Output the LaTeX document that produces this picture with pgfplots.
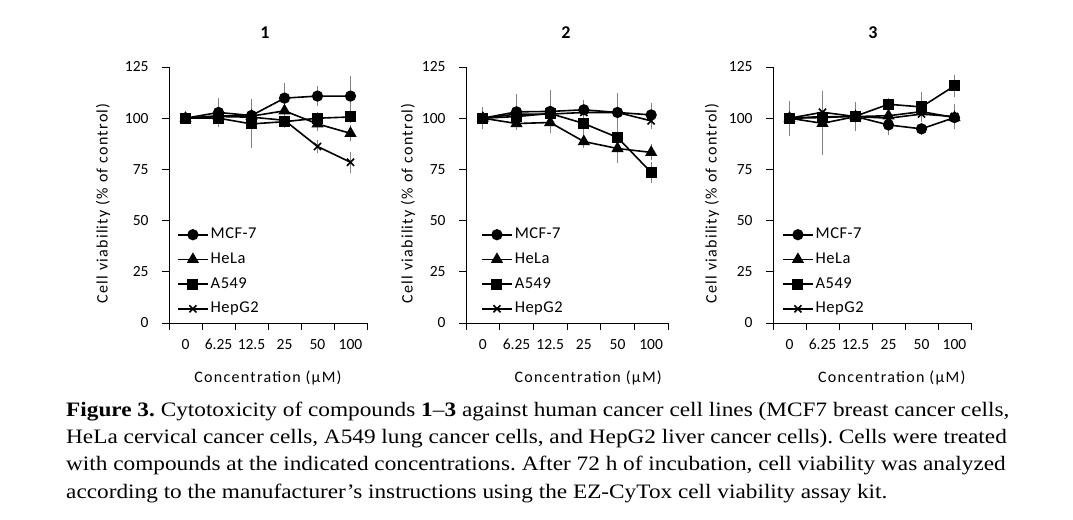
\documentclass[border=0pt]{standalone}
\usepackage{fontspec}
\setmainfont{Liberation Serif}
\newfontfamily\calfont{Carlito}
\newfontfamily\callab[LetterSpace=8]{Carlito}
\newfontfamily\calleg[LetterSpace=3]{Carlito}
\usepackage{pgfplots}
\pgfplotsset{compat=1.18}
\frenchspacing
\newcommand\tickfont{\calfont\fontsize{15.5bp}{18bp}\selectfont}
\newcommand\labfont{\callab\fontsize{16bp}{19bp}\selectfont}
\newcommand\legfont{\calleg\fontsize{16.5bp}{19bp}\selectfont}
\newcommand\titfont{\calfont\bfseries\fontsize{18bp}{20bp}\selectfont}
\newcommand\capfont{\fontsize{20.5bp}{24bp}\selectfont}
\newcommand\capline[1]{\scalebox{1.135}[1]{#1}}
\definecolor{errgray}{RGB}{130,130,130}
\pgfplotsset{
  cyto/.style={
    scale only axis, height=256bp,
    xmin=-0.5, xmax=5.5, ymin=0, ymax=125,
    ytick={0,25,50,75,100,125},
    xtick={0,1,2,3,4,5}, xticklabels={0,6.25,12.5,25,50,100},
    minor xtick={-0.5,0.5,1.5,2.5,3.5,4.5,5.5},
    major x tick style={draw=none},
    axis x line*=bottom, axis y line*=left,
    axis line style={black, line width=0.8bp},
    tick style={black, line width=0.8bp},
    tick align=outside, major tick length=7bp, minor tick length=7bp,
    tick label style={font=\tickfont},
    xticklabel style={yshift=-6bp},
    yticklabel style={xshift=-10bp},
    /pgf/number format/assume math mode=true,
    ylabel={Cell viability (\% of control)},
    xlabel={Concentration (µM)},
    label style={font=\labfont},
    title style={font=\titfont, anchor=center},
    clip=false,
    legend cell align=left,
    legend style={draw=none, fill=none, anchor=north west, font=\legfont,
      inner sep=0pt, row sep=11.7bp, column sep=2bp,
      nodes={inner sep=0pt, text height=10.5bp, text depth=2.5bp}},
    legend image code/.code={\draw[mark repeat=2,mark phase=2,##1] plot coordinates {(0bp,0bp) (15bp,0bp) (30bp,0bp)};},
  },
  ser/.style={black, line width=1.6bp, mark options={solid},
    /pgfplots/error bars/y dir=both, /pgfplots/error bars/y explicit,
    /pgfplots/error bars/error bar style={draw=errgray, line width=0.7bp},
    /pgfplots/error bars/error mark options={draw=errgray, mark size=4bp, line width=0.7bp}},
  mcf/.style={ser, mark=*, mark size=4.8bp},
  hela/.style={ser, mark=triangle*, mark size=5.5bp},
  a549/.style={ser, mark=square*, mark size=4.7bp},
  hep/.style={ser, mark=x, mark size=5bp},
}
\begin{document}
\begin{tikzpicture}
\useasboundingbox (0,0) rectangle (1073bp,520bp);
% ---------------- Panel 1
\begin{axis}[cyto, width=198bp, at={(169bp,197bp)}, anchor=south west,
  title={1}, title style={at={(axis description cs:0.485,1.11)}},
  ylabel style={at={(axis description cs:-0.333,0.467)}, anchor=center},
  xlabel style={at={(axis description cs:0.5,-0.215)}, anchor=center},
  legend style={at={(axis description cs:0.04,0.371)}}]
\addplot[mcf] coordinates {(0,100) +- (0,1) (1,102.8) +- (0,5) (2,101.3) +- (0,6) (3,109.8) +- (0,5.5) (4,110.8) +- (0,3) (5,110.8) +- (0,8)};
\addplot[hela] coordinates {(0,100) +- (0,1) (1,101.2) +- (0,1) (2,101) +- (0,1) (3,103.6) +- (0,2) (4,97.2) +- (0,1.5) (5,92.6) +- (0,2)};
\addplot[a549] coordinates {(0,100) +- (0,1) (1,100) +- (0,1) (2,97.2) +- (0,9.8) (3,98.3) +- (0,1) (4,100) +- (0,1) (5,100.6) +- (0,1)};
\addplot[hep] coordinates {(0,100) +- (0,1) (1,100.8) +- (0,1) (2,100.5) +- (0,1) (3,99) +- (0,1) (4,86.2) +- (0,1) (5,78.5) +- (0,3.2)};
\legend{MCF-7,HeLa,A549,HepG2}
\end{axis}
% ---------------- Panel 2
\begin{axis}[cyto, width=202bp, at={(466bp,197bp)}, anchor=south west,
  title={2}, title style={at={(axis description cs:0.495,1.11)}},
  ylabel style={at={(axis description cs:-0.287,0.467)}, anchor=center},
  xlabel style={at={(axis description cs:0.605,-0.215)}, anchor=center},
  legend style={at={(axis description cs:0.074,0.371)}}]
\addplot[mcf] coordinates {(0,100) +- (0,3.5) (1,103.1) +- (0,7) (2,103.3) +- (0,8.5) (3,104.1) +- (0,3) (4,102.8) +- (0,7.7) (5,101.6) +- (0,4)};
\addplot[hela] coordinates {(0,100) +- (0,1) (1,97.4) +- (0,1) (2,97.9) +- (0,2.5) (3,88.6) +- (0,1) (4,85.2) +- (0,5) (5,83.3) +- (0,2)};
\addplot[a549] coordinates {(0,100) +- (0,1) (1,100.8) +- (0,1) (2,102.3) +- (0,1) (3,97.4) +- (0,5) (4,90.6) +- (0,1) (5,73.5) +- (0,3)};
\addplot[hep] coordinates {(0,100) +- (0,1) (1,102) +- (0,1) (2,102) +- (0,1) (3,102.8) +- (0,1) (4,102.8) +- (0,1) (5,98.7) +- (0,2)};
\legend{MCF-7,HeLa,A549,HepG2}
\end{axis}
% ---------------- Panel 3
\begin{axis}[cyto, width=198bp, at={(773bp,197bp)}, anchor=south west,
  title={3}, title style={at={(axis description cs:0.505,1.11)}},
  ylabel style={at={(axis description cs:-0.308,0.467)}, anchor=center},
  xlabel style={at={(axis description cs:0.6,-0.215)}, anchor=center},
  legend style={at={(axis description cs:0.045,0.371)}}]
\addplot[mcf] coordinates {(0,100) +- (0,4) (1,100.8) +- (0,1) (2,100.8) +- (0,5) (3,96.7) +- (0,3) (4,94.8) +- (0,1) (5,100.3) +- (0,2)};
\addplot[hela] coordinates {(0,100) +- (0,6.5) (1,97.5) +- (0,13.7) (2,100.8) +- (0,1) (3,101.2) +- (0,2) (4,103.2) +- (0,3) (5,100.3) +- (0,3)};
\addplot[a549] coordinates {(0,100) +- (0,1) (1,100.3) +- (0,1) (2,101) +- (0,1) (3,106.8) +- (0,1) (4,105.5) +- (0,5.5) (5,115.8) +- (0,3.3)};
\addplot[hep] coordinates {(0,100) +- (0,1) (1,102.9) +- (0,2) (2,100.8) +- (0,1) (3,100) +- (0,1) (4,102) +- (0,1) (5,100.8) +- (0,4)};
\legend{MCF-7,HeLa,A549,HepG2}
\end{axis}
% ---------------- Caption
\node[anchor=base west, inner sep=0pt, font=\capfont] at (66bp,103bp) {\capline{\textbf{Figure 3.} Cytotoxicity of compounds \textbf{1}–\textbf{3} against human cancer cell lines (MCF7 breast cancer cells,}};
\node[anchor=base west, inner sep=0pt, font=\capfont] at (66bp,76bp) {\capline{HeLa cervical cancer cells, A549 lung cancer cells, and HepG2 liver cancer cells). Cells were treated}};
\node[anchor=base west, inner sep=0pt, font=\capfont] at (66bp,49bp) {\capline{with compounds at the indicated concentrations. After 72 h of incubation, cell viability was analyzed}};
\node[anchor=base west, inner sep=0pt, font=\capfont] at (66bp,22bp) {\capline{according to the manufacturer’s instructions using the EZ-CyTox cell viability assay kit.}};
\end{tikzpicture}
\end{document}
